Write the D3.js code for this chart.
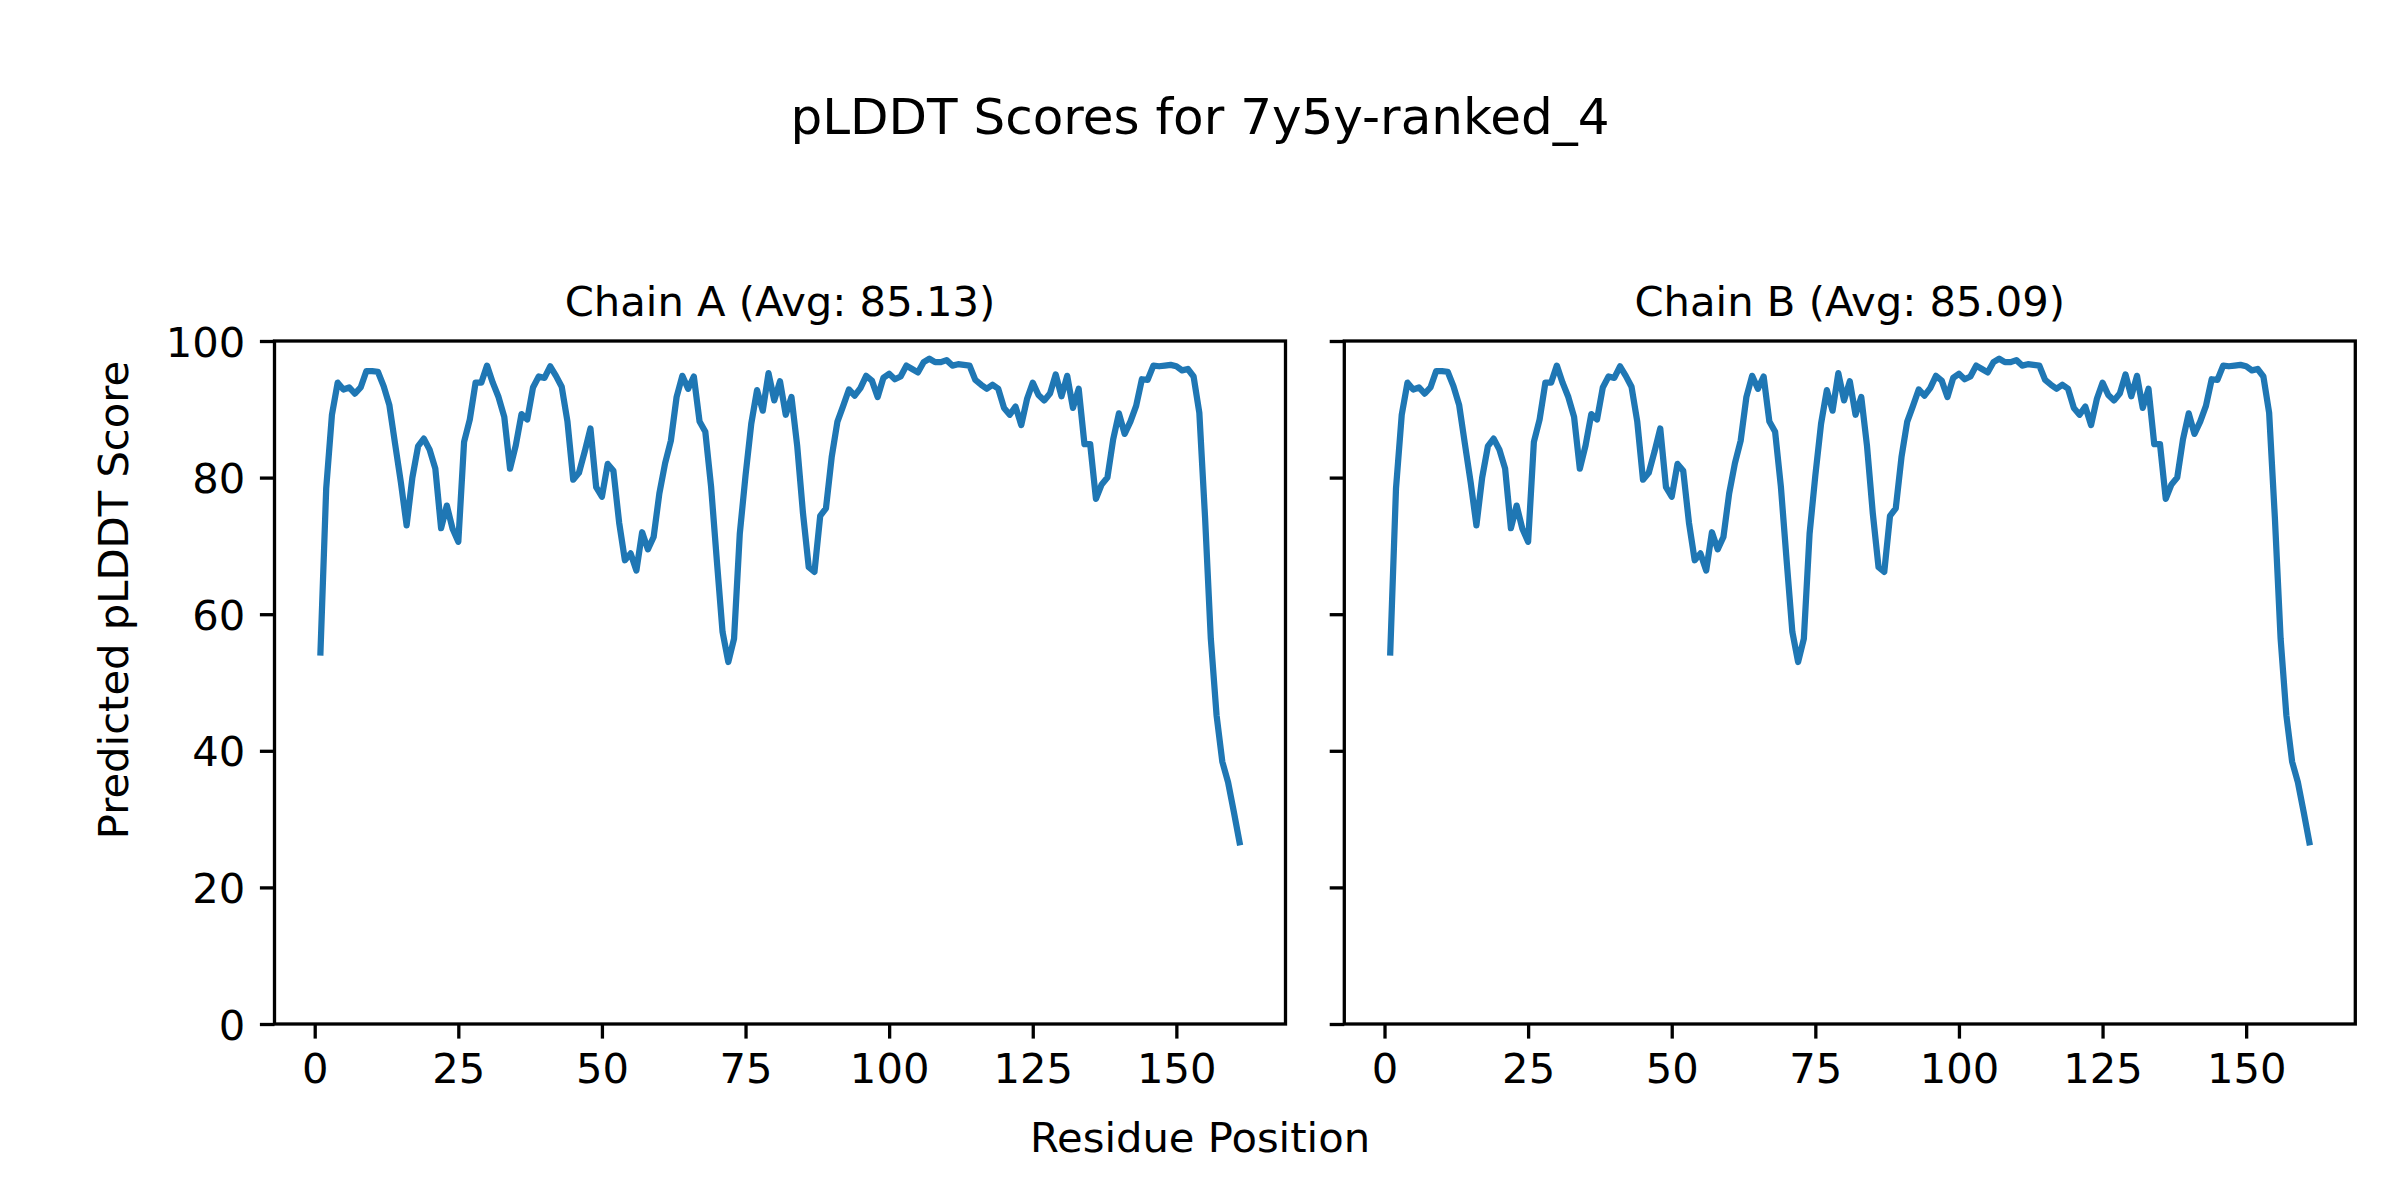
<!DOCTYPE html>
<html>
<head>
<meta charset="utf-8">
<script src="https://cdn.jsdelivr.net/npm/d3@7"></script>
<style>
  body { margin: 0; background: #fff; }
  svg text { font-family: "DejaVu Sans", sans-serif; fill: #000; }
</style>
</head>
<body>
<svg id="chart" width="2400" height="1200"></svg>
<script>
//------------------- data ------------------
var chainNames = ["Chain A (Avg: 85.13)", "Chain B (Avg: 85.09)"];
var residues = d3.range(1, 162);
var scoresA = [
  54.4, 78.4, 89.2, 93.9, 92.9, 93.2, 92.3, 93.2, 95.6, 95.6,
  95.5, 93.4, 90.6, 84.9, 79.3, 73.0, 80.0, 84.6, 85.7, 84.1,
  81.3, 72.6, 75.9, 72.5, 70.6, 85.2, 88.5, 93.9, 93.9, 96.4,
  93.9, 91.8, 88.9, 81.3, 84.7, 89.3, 88.5, 93.2, 94.8, 94.6,
  96.3, 94.9, 93.3, 88.2, 79.7, 80.7, 83.8, 87.2, 78.6, 77.2,
  82.0, 81.0, 73.4, 67.9, 68.9, 66.4, 72.0, 69.5, 71.3, 77.7,
  82.1, 85.4, 91.8, 94.9, 93.0, 94.8, 88.2, 86.7, 78.7, 67.9,
  57.4, 53.0, 56.4, 71.8, 80.3, 87.9, 92.8, 89.8, 95.3, 91.3,
  94.1, 89.2, 91.8, 84.6, 74.8, 66.9, 66.2, 74.4, 75.5, 83.0,
  88.2, 90.5, 92.9, 92.0, 93.1, 94.9, 94.2, 91.8, 94.6, 95.2,
  94.4, 94.8, 96.4, 95.9, 95.4, 96.9, 97.4, 96.9, 96.9, 97.2,
  96.4, 96.6, 96.5, 96.4, 94.3, 93.6, 93.0, 93.6, 93.0, 90.2,
  89.2, 90.4, 87.7, 91.5, 93.9, 92.1, 91.3, 92.3, 95.1, 91.9,
  94.9, 90.2, 93.0, 84.9, 84.9, 76.9, 79.0, 80.0, 85.6, 89.4,
  86.4, 88.2, 90.5, 94.4, 94.3, 96.4, 96.3, 96.4, 96.5, 96.3,
  95.7, 95.9, 94.8, 89.5, 74.1, 56.4, 45.2, 38.4, 35.4, 31.1,
  26.6
];
var scoresB = [
  54.4, 78.4, 89.2, 93.9, 92.9, 93.2, 92.3, 93.2, 95.6, 95.6,
  95.5, 93.4, 90.6, 84.9, 79.3, 73.0, 80.0, 84.6, 85.7, 84.1,
  81.3, 72.6, 75.9, 72.5, 70.6, 85.2, 88.5, 93.9, 93.9, 96.4,
  93.9, 91.8, 88.9, 81.3, 84.7, 89.3, 88.5, 93.2, 94.8, 94.6,
  96.3, 94.9, 93.3, 88.2, 79.7, 80.7, 83.8, 87.2, 78.6, 77.2,
  82.0, 81.0, 73.4, 67.9, 68.9, 66.4, 72.0, 69.5, 71.3, 77.7,
  82.1, 85.4, 91.8, 94.9, 93.0, 94.8, 88.2, 86.7, 78.7, 67.9,
  57.4, 53.0, 56.4, 71.8, 80.3, 87.9, 92.8, 89.8, 95.3, 91.3,
  94.1, 89.2, 91.8, 84.6, 74.8, 66.9, 66.2, 74.4, 75.5, 83.0,
  88.2, 90.5, 92.9, 92.0, 93.1, 94.9, 94.2, 91.8, 94.6, 95.2,
  94.4, 94.8, 96.4, 95.9, 95.4, 96.9, 97.4, 96.9, 96.9, 97.2,
  96.4, 96.6, 96.5, 96.4, 94.3, 93.6, 93.0, 93.6, 93.0, 90.2,
  89.2, 90.4, 87.7, 91.5, 93.9, 92.1, 91.3, 92.3, 95.1, 91.9,
  94.9, 90.2, 93.0, 84.9, 84.9, 76.9, 79.0, 80.0, 85.6, 89.4,
  86.4, 88.2, 90.5, 94.4, 94.3, 96.4, 96.3, 96.4, 96.5, 96.3,
  95.7, 95.9, 94.8, 89.5, 74.1, 56.4, 45.2, 38.4, 35.4, 31.1,
  26.6
];
var xTicks = [0, 25, 50, 75, 100, 125, 150];
var yTicks = [0, 20, 40, 60, 80, 100];

//------------------- layout ------------------
var svg = d3.select('#chart');
var panels = [
  { title: chainNames[0], scores: scoresA, left: 274.5, right: 1285.5, yLabels: true },
  { title: chainNames[1], scores: scoresB, left: 1344.3, right: 2355.3, yLabels: false }
];
var plotTop = 341, plotBottom = 1024;
var tickLen = 14.6, tickPad = 14.6, fs = 41.7;

var y = d3.scaleLinear().domain([0, 100]).range([plotBottom, plotTop]);

svg.append('rect').attr('width', 2400).attr('height', 1200).attr('fill', '#fff');

panels.forEach(function(p, k) {
  var x = d3.scaleLinear().domain([-7, 169]).range([p.left, p.right]);
  var g = svg.append('g');

  // clip the line to the axes box
  var clipId = 'clip' + k;
  svg.append('clipPath').attr('id', clipId)
    .append('rect').attr('x', p.left).attr('y', plotTop)
    .attr('width', p.right - p.left).attr('height', plotBottom - plotTop);

  var line = d3.line()
    .x(function(d, i) { return x(residues[i]); })
    .y(function(d) { return y(d); });

  g.append('path')
    .datum(p.scores)
    .attr('clip-path', 'url(#' + clipId + ')')
    .attr('d', line)
    .attr('fill', 'none')
    .attr('stroke', '#1f77b4')
    .attr('stroke-width', 6.25)
    .attr('stroke-linejoin', 'round')
    .attr('stroke-linecap', 'square');

  // axes, restyled like matplotlib
  var xAxis = d3.axisBottom(x).tickValues(xTicks).tickSize(tickLen).tickPadding(tickPad).tickSizeOuter(0);
  var gx = g.append('g').attr('transform', 'translate(0,' + plotBottom + ')').call(xAxis);
  gx.select('.domain').remove();
  gx.selectAll('line').attr('stroke', '#000').attr('stroke-width', 3.3);
  gx.selectAll('text')
    .attr('font-size', fs)
    .attr('font-family', '"DejaVu Sans", sans-serif')
    .attr('dy', null)
    .attr('y', tickLen + tickPad + 30);

  var yAxis = d3.axisLeft(y).tickValues(yTicks).tickSize(tickLen).tickPadding(tickPad).tickSizeOuter(0);
  if (!p.yLabels) yAxis.tickFormat('');
  var gy = g.append('g').attr('transform', 'translate(' + p.left + ',0)').call(yAxis);
  gy.select('.domain').remove();
  gy.selectAll('line').attr('stroke', '#000').attr('stroke-width', 3.3);
  gy.selectAll('text')
    .attr('font-size', fs)
    .attr('font-family', '"DejaVu Sans", sans-serif')
    .attr('dy', '0.36em');

  // frame
  g.append('rect')
    .attr('x', p.left).attr('y', plotTop)
    .attr('width', p.right - p.left).attr('height', plotBottom - plotTop)
    .attr('fill', 'none').attr('stroke', '#000').attr('stroke-width', 3.3);

  g.append('text')
    .attr('x', (p.left + p.right) / 2).attr('y', plotTop - 25)
    .attr('text-anchor', 'middle')
    .attr('font-size', fs)
    .text(p.title);
});

// figure texts
svg.append('text')
  .attr('x', 1200).attr('y', 134)
  .attr('text-anchor', 'middle')
  .attr('font-size', 50)
  .text('pLDDT Scores for 7y5y-ranked_4');

svg.append('text')
  .attr('x', 1200).attr('y', 1152)
  .attr('text-anchor', 'middle')
  .attr('font-size', fs)
  .text('Residue Position');

svg.append('text')
  .attr('transform', 'translate(128,600) rotate(-90)')
  .attr('text-anchor', 'middle')
  .attr('font-size', fs)
  .text('Predicted pLDDT Score');
</script>
</body>
</html>
